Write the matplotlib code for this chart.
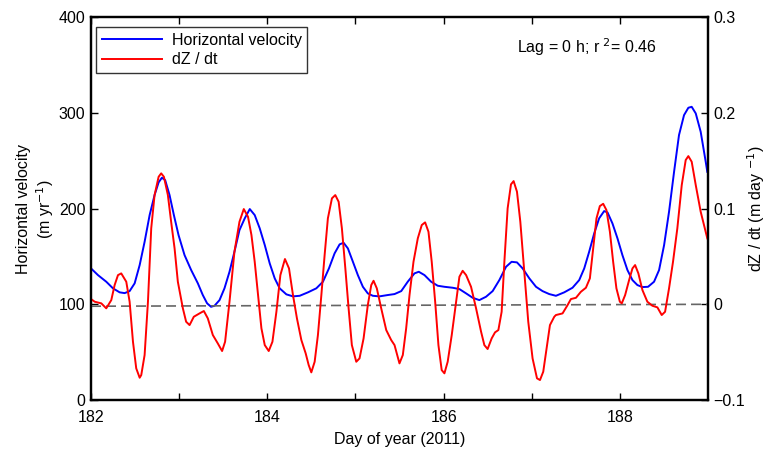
import numpy as np
import matplotlib.pyplot as plt

plt.rcParams['font.family'] = ['Liberation Sans', 'DejaVu Sans']

# horizontal velocity (m/yr), left axis
vel_day = [182.000, 182.079, 182.173, 182.249, 182.325, 182.382, 182.438, 182.495, 182.552, 182.608,
           182.665, 182.721, 182.767, 182.804, 182.841, 182.891, 182.940, 182.993, 183.061, 183.136,
           183.212, 183.268, 183.317, 183.362, 183.401, 183.458, 183.514, 183.571, 183.627, 183.684,
           183.744, 183.801, 183.857, 183.914, 183.971, 184.027, 184.084, 184.140, 184.216, 184.291,
           184.367, 184.461, 184.556, 184.631, 184.699, 184.763, 184.820, 184.865, 184.914, 184.971,
           185.027, 185.084, 185.140, 185.197, 185.273, 185.367, 185.443, 185.519, 185.593, 185.669,
           185.718, 185.783, 185.858, 185.933, 186.009, 186.103, 186.179, 186.255, 186.330, 186.405,
           186.481, 186.556, 186.632, 186.708, 186.771, 186.832, 186.896, 186.972, 187.048, 187.122,
           187.198, 187.274, 187.368, 187.462, 187.538, 187.595, 187.651, 187.708, 187.764, 187.821,
           187.859, 187.915, 187.972, 188.028, 188.085, 188.142, 188.198, 188.255, 188.319, 188.387,
           188.444, 188.501, 188.557, 188.614, 188.670, 188.727, 188.776, 188.814, 188.860, 188.916,
           188.973, 188.991]
vel = [137.5, 130.5, 123.6, 116.7, 112.5, 111.7, 113.8, 121.9, 141.0, 165.3,
       193.2, 214.1, 227.4, 232.2, 229.8, 214.1, 193.2, 172.3, 151.4, 135.8,
       121.9, 109.7, 101.0, 97.4, 98.5, 104.4, 116.7, 134.0, 154.9, 177.5,
       189.8, 199.5, 193.2, 179.3, 161.9, 142.8, 127.1, 116.7, 110.4, 108.3,
       108.9, 112.5, 116.7, 123.6, 137.5, 153.2, 162.6, 164.3, 158.4, 144.4,
       130.5, 118.3, 111.4, 108.9, 108.3, 109.7, 110.7, 113.8, 123.6, 132.3,
       134.0, 130.5, 123.6, 119.4, 118.3, 117.3, 115.9, 111.4, 106.8, 104.4,
       107.9, 113.8, 125.3, 139.2, 144.4, 143.8, 137.5, 127.1, 118.3, 113.8,
       110.7, 108.9, 112.5, 117.3, 125.3, 137.5, 154.9, 174.1, 189.8, 197.4,
       196.0, 184.5, 168.9, 151.4, 135.8, 125.3, 120.1, 118.0, 118.3, 123.6,
       135.8, 161.9, 196.7, 238.4, 276.8, 297.6, 305.3, 306.3, 299.4, 280.2,
       248.9, 238.4]

# rate of surface elevation change (m/day), right axis
dz_day = [182.000, 182.042, 182.117, 182.173, 182.230, 182.268, 182.306, 182.343, 182.400, 182.438,
          182.476, 182.513, 182.552, 182.570, 182.608, 182.646, 182.683, 182.721, 182.767, 182.796,
          182.827, 182.872, 182.909, 182.948, 182.985, 183.042, 183.079, 183.118, 183.166, 183.231,
          183.280, 183.325, 183.382, 183.438, 183.487, 183.521, 183.571, 183.627, 183.684, 183.733,
          183.781, 183.820, 183.857, 183.895, 183.933, 183.971, 184.016, 184.058, 184.103, 184.148,
          184.200, 184.246, 184.291, 184.336, 184.386, 184.435, 184.469, 184.499, 184.537, 184.574,
          184.613, 184.650, 184.687, 184.733, 184.771, 184.809, 184.846, 184.885, 184.922, 184.959,
          185.009, 185.046, 185.092, 185.140, 185.179, 185.205, 185.242, 185.292, 185.349, 185.405,
          185.443, 185.499, 185.537, 185.575, 185.613, 185.658, 185.707, 185.752, 185.790, 185.828,
          185.865, 185.904, 185.941, 185.978, 186.009, 186.046, 186.092, 186.142, 186.179, 186.216,
          186.255, 186.311, 186.368, 186.425, 186.462, 186.499, 186.545, 186.583, 186.621, 186.658,
          186.689, 186.726, 186.764, 186.794, 186.832, 186.870, 186.915, 186.960, 187.009, 187.059,
          187.093, 187.130, 187.168, 187.206, 187.255, 187.274, 187.349, 187.406, 187.444, 187.501,
          187.557, 187.614, 187.659, 187.696, 187.734, 187.772, 187.810, 187.847, 187.886, 187.923,
          187.960, 187.999, 188.021, 188.059, 188.104, 188.142, 188.172, 188.209, 188.255, 188.311,
          188.368, 188.425, 188.474, 188.512, 188.557, 188.602, 188.651, 188.701, 188.746, 188.776,
          188.814, 188.860, 188.916, 188.991]
dz = [0.0055, 0.0027, 0.0010, -0.0042, 0.0044, 0.0201, 0.0305, 0.0323, 0.0236, 0.0027,
      -0.0391, -0.0669, -0.0767, -0.0739, -0.0530, 0.0027, 0.0793, 0.1141, 0.1332, 0.1368,
      0.1332, 0.1141, 0.0862, 0.0584, 0.0236, -0.0042, -0.0182, -0.0217, -0.0130, -0.0095,
      -0.0070, -0.0147, -0.0321, -0.0408, -0.0488, -0.0391, 0.0027, 0.0549, 0.0862, 0.0995,
      0.0914, 0.0723, 0.0444, 0.0097, -0.0251, -0.0426, -0.0488, -0.0391, -0.0078, 0.0305,
      0.0473, 0.0375, 0.0097, -0.0147, -0.0373, -0.0512, -0.0634, -0.0711, -0.0600, -0.0321,
      0.0097, 0.0514, 0.0898, 0.1107, 0.1141, 0.1071, 0.0793, 0.0375, -0.0042, -0.0426,
      -0.0600, -0.0565, -0.0356, -0.0008, 0.0201, 0.0246, 0.0167, -0.0042, -0.0269, -0.0373,
      -0.0426, -0.0617, -0.0530, -0.0251, 0.0097, 0.0444, 0.0689, 0.0828, 0.0856, 0.0758,
      0.0444, 0.0027, -0.0426, -0.0687, -0.0721, -0.0600, -0.0321, 0.0027, 0.0288, 0.0350,
      0.0305, 0.0183, -0.0042, -0.0287, -0.0426, -0.0467, -0.0356, -0.0293, -0.0269, -0.0078,
      0.0444, 0.1002, 0.1253, 0.1287, 0.1176, 0.0862, 0.0340, -0.0182, -0.0565, -0.0773,
      -0.0791, -0.0704, -0.0460, -0.0217, -0.0130, -0.0112, -0.0095, -0.0008, 0.0055, 0.0068,
      0.0131, 0.0173, 0.0271, 0.0584, 0.0898, 0.1026, 0.1050, 0.0984, 0.0758, 0.0444,
      0.0167, 0.0027, 0.0010, 0.0097, 0.0253, 0.0375, 0.0410, 0.0323, 0.0149, 0.0027,
      -0.0015, -0.0032, -0.0112, -0.0078, 0.0167, 0.0444, 0.0793, 0.1245, 0.1507, 0.1548,
      0.1489, 0.1245, 0.0967, 0.0689]

zero_day = [182, 189]
zero_dz = [-0.002, 0.0]

fs = 11.5

fig = plt.figure(figsize=(7.68, 4.5), dpi=100)
ax = fig.add_axes([0.1185, 0.111, 0.8035, 0.851])
ax2 = ax.twinx()

ax.plot(vel_day, vel, color='#0000ff', lw=1.4, label='Horizontal velocity',
        solid_joinstyle='round')
ax2.plot(zero_day, zero_dz, color='#666666', lw=1.2, ls=(0, (6, 3)))
ax2.plot(dz_day, dz, color='#ff0000', lw=1.4, label='dZ / dt', solid_joinstyle='round')

ax.set_xlim(182, 189)
ax.set_ylim(0, 400)
ax2.set_ylim(-0.1, 0.3)
ax.set_xticks([182, 184, 186, 188])
ax.set_xticks([183, 185, 187], minor=True)
ax.set_yticks([0, 100, 200, 300, 400])
ax2.set_yticks([-0.1, 0, 0.1, 0.2, 0.3])
ax2.set_yticklabels(['\u22120.1', '0', '0.1', '0.2', '0.3'])

for a in (ax, ax2):
    a.tick_params(direction='in', length=5, width=1, labelsize=fs, top=True, which='both')
    for s in a.spines.values():
        s.set_linewidth(1.6)
ax.tick_params(axis='x', pad=7)
ax.tick_params(axis='y', pad=4)
ax2.tick_params(axis='y', pad=4)

ax.set_xlabel('Day of year (2011)', fontsize=fs, labelpad=5)
ax.set_ylabel('Horizontal velocity\n(m yr$^{-1}$)', fontsize=fs, labelpad=2)
ax2.set_ylabel('dZ / dt (m day $^{-1}$)', fontsize=fs, labelpad=0)

ax.text(187.62, 369, 'Lag = 0 h; r $^{2}$= 0.46', fontsize=fs, ha='center', va='center')

h1, l1 = ax.get_legend_handles_labels()
h2, l2 = ax2.get_legend_handles_labels()
leg = ax2.legend(h1 + h2, l1 + l2, loc='upper left', bbox_to_anchor=(0.008, 0.974),
                 fontsize=fs, frameon=True, fancybox=False, edgecolor='black',
                 handlelength=3.8, borderaxespad=0, borderpad=0.35, labelspacing=0.3,
                 handletextpad=0.6)
leg.get_frame().set_linewidth(1.0)

fig.savefig('out.png', dpi=100)
